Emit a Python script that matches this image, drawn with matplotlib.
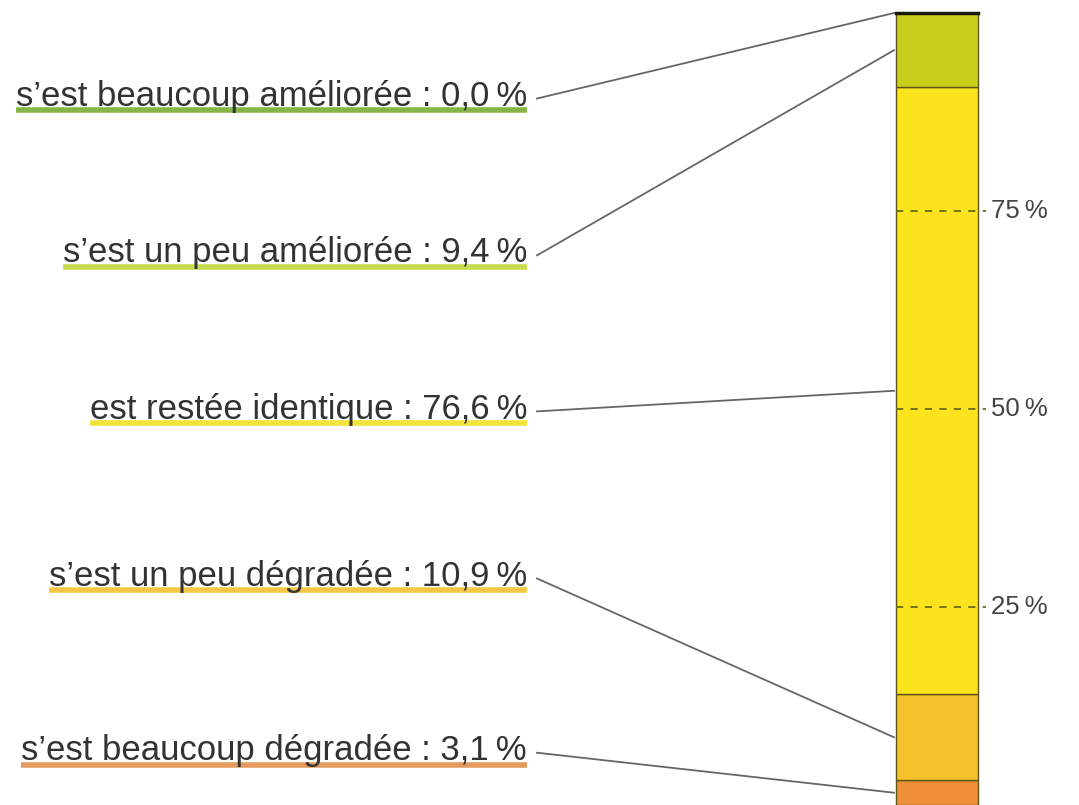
import matplotlib.pyplot as plt
import numpy as np

# data, bottom to top of the stacked bar
labels = ["s’est beaucoup dégradée", "s’est un peu dégradée", "est restée identique",
          "s’est un peu améliorée", "s’est beaucoup améliorée"]
values = [3.1, 10.9, 76.6, 9.4, 0.0]
value_text = ["3,1", "10,9", "76,6", "9,4", "0,0"]
ticks = [25, 50, 75]
tick_labels = ["25\u2009%", "50\u2009%", "75\u2009%"]

bar_colors = ['#ef9038', '#f7c12b', '#fbe31e', '#c9cf1d', '#4a6a10']
line_colors = ['#e39a5c', '#f5c744', '#f2e23a', '#c6dc4c', '#86b447']

plt.rcParams['font.family'] = ['Liberation Sans', 'DejaVu Sans']

fig = plt.figure(figsize=(10.79, 8.05), dpi=100)
ax = fig.add_axes([0, 0, 1, 1])
ax.set_xlim(0, 1079)
ax.set_ylim(0, 100 * 805 / 792)
ax.axis('off')

bar_x, bar_w = 937, 82
bottoms = np.concatenate([[0], np.cumsum(values)[:-1]])
for v, b, c in zip(values, bottoms, bar_colors):
    ax.bar(bar_x, v, bottom=b, width=bar_w, color=c, edgecolor='#5c5418', linewidth=1.0, zorder=2)
# top edge (0,0 % segment)
ax.plot([bar_x - bar_w / 2, bar_x + bar_w / 2], [100, 100], color='#1a1a00', lw=2.5, zorder=3)

# grid ticks
for t, tl in zip(ticks, tick_labels):
    ax.plot([bar_x - bar_w / 2, bar_x + bar_w / 2 + 8], [t, t], color='#6e6a10',
            lw=1.3, ls=(0, (4, 4)), zorder=3)
    ax.text(bar_x + bar_w / 2 + 13, t, tl, fontsize=18.5, color='#444444',
            va='center', ha='left')

# labels with connectors
label_pos = [6.6, 28.6, 49.7, 69.4, 89.2]
fig.canvas.draw()
r = fig.canvas.get_renderer()
for lab, vt, v, b, y, lc in zip(labels, value_text, values, bottoms, label_pos, line_colors):
    t = ax.text(527, y - 0.9, f"{lab} : {vt}\u2009%", fontsize=25, color='#333333',
                ha='right', va='baseline', zorder=4)
    bb = t.get_window_extent(renderer=r)
    x0 = ax.transData.inverted().transform((bb.x0, bb.y0))[0]
    ax.plot([x0, 527], [y - 1.5, y - 1.5], color=lc, lw=4, solid_capstyle='butt', zorder=3)
    ax.plot([537, bar_x - bar_w / 2 - 2], [y, b + v / 2], color='#666666', lw=1.3, zorder=3)

fig.savefig('out.png', dpi=100)
